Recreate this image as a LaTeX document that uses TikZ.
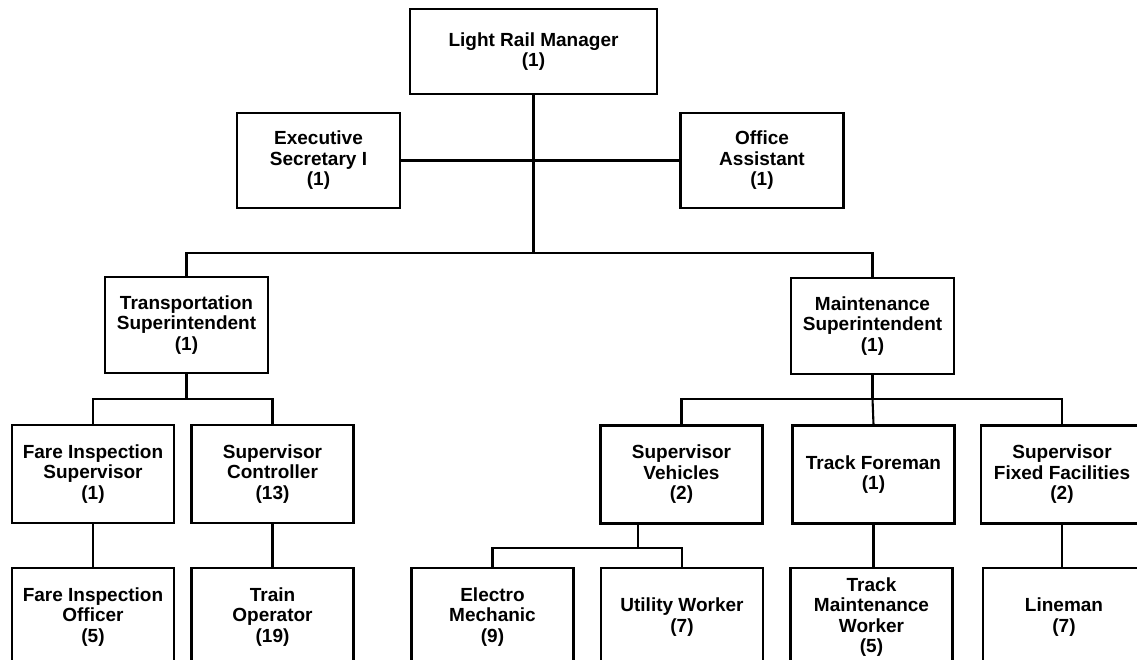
\documentclass[tikz,border=0pt]{standalone}
\usepackage{fontspec}
\setmainfont{Liberation Sans}
\begin{document}
\begin{tikzpicture}[x=1pt,y=-1pt,
  box/.style={draw=black, line width=2.1pt, fill=white, inner sep=0pt, align=center,
    font=\fontsize{19}{20.5}\selectfont\bfseries},
  wide/.style={minimum width=247pt, minimum height=85pt},
  std/.style={minimum width=163pt, minimum height=96pt},
  low/.style={minimum width=162pt, minimum height=98pt},
  link/.style={draw=black, line width=2.1pt}]
\useasboundingbox (0,0) rectangle (1137,660);
\fill[white] (0,0) rectangle (1137,660);
% nodes
\node[box,wide] (lrm) at (533.5,51.5) {Light Rail Manager\\(1)};
\node[box,std,minimum height=95pt] (es) at (318.5,160.5) {Executive\\Secretary I\\(1)};
\node[box,std,minimum height=95pt] (oa) at (762,160.5) {Office\\Assistant\\(1)};
\node[box,std] (ts) at (186.5,325) {Transportation\\Superintendent\\(1)};
\node[box,std] (ms) at (872.5,326) {Maintenance\\Superintendent\\(1)};
\node[box,low] (fis) at (93,474) {Fare Inspection\\Supervisor\\(1)};
\node[box,low] (sc) at (272.5,474) {Supervisor\\Controller\\(13)};
\node[box,low] (sv) at (681.5,474.5) {Supervisor\\Vehicles\\(2)};
\node[box,low] (tf) at (873.5,474.5) {Track Foreman\\(1)};
\node[box,low] (sff) at (1062,474.5) {Supervisor\\Fixed Facilities\\(2)};
\node[box,low] (fio) at (93,617) {Fare Inspection\\Officer\\(5)};
\node[box,low] (to) at (272.5,617) {Train\\Operator\\(19)};
\node[box,low] (em) at (492.5,617) {Electro\\Mechanic\\(9)};
\node[box,low] (uw) at (682,617) {Utility Worker\\(7)};
\node[box,low] (tmw) at (871.5,617) {Track\\Maintenance\\Worker\\(5)};
\node[box,low] (lm) at (1064,617) {Lineman\\(7)};
% junctions
\coordinate (b1) at (533.5,253);
\coordinate (b2) at (186.5,399);
\coordinate (b3) at (872.5,399);
\coordinate (b4) at (638,548);
% connectors
\draw[link] (lrm.south) -- (b1);
\draw[link] (es.east) -- (oa.west);
\draw[link] (ts.north) |- (b1) -| (ms.north);
\draw[link] (ts.south) -- (b2);
\draw[link] (fis.north) |- (b2) -| (sc.north);
\draw[link] (ms.south) -- (b3);
\draw[link] (sv.north) |- (b3) -| (sff.north);
\draw[link] (tf.north) -- (b3);
\draw[link] (sv.south -| b4) -- (b4);
\draw[link] (em.north) |- (b4) -| (uw.north);
\draw[link] (fis.south) -- (fio.north);
\draw[link] (sc.south) -- (to.north);
\draw[link] (tf.south) -- (tmw.north -| tf.south);
\draw[link] (sff.south) -- (lm.north -| sff.south);
\end{tikzpicture}
\end{document}
